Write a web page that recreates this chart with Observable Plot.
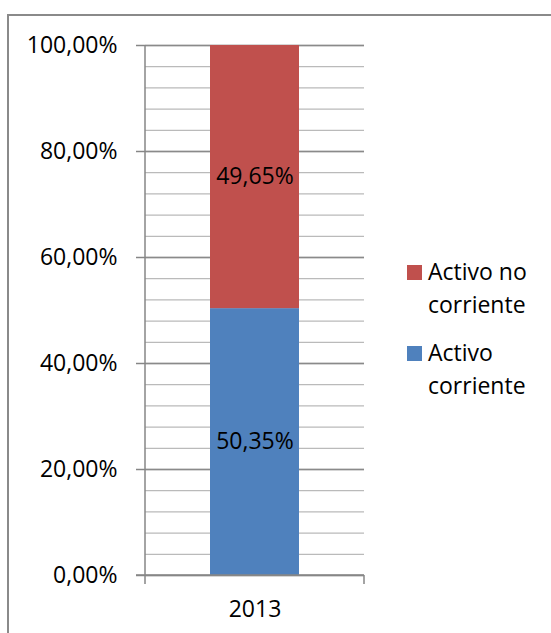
<!DOCTYPE html>
<html>
<head>
<meta charset="utf-8">
<script src="https://cdn.jsdelivr.net/npm/d3@7"></script>
<script src="https://cdn.jsdelivr.net/npm/@observablehq/plot@0.6"></script>
<style>
  html, body { margin: 0; padding: 0; background: #fff; overflow: hidden; }
  #wrap { position: relative; width: 551px; height: 633px; overflow: hidden; font-family: "Open Sans", sans-serif; }
  #border { position: absolute; left: 7px; top: 14px; width: 700px; height: 800px; border: 2px solid #8a8a8a; box-sizing: border-box; }
  #chart { position: absolute; left: 0; top: 0; }
  #legend { position: absolute; left: 407px; top: 0; font-size: 23px; line-height: 33px; color: #000; }
  .item { position: absolute; left: 0; white-space: nowrap; }
  .sw { position: absolute; left: 0; width: 15px; height: 15px; }
  .txt { position: absolute; left: 21px; }
</style>
</head>
<body>
<div id="wrap">
  <div id="border"></div>
  <div id="chart"></div>
  <div id="legend"></div>
</div>
<script>
// Balance sheet composition for 2013 (share of total assets)
const categories = ["2013"];
const series = ["Activo corriente", "Activo no corriente"];
const values = [50.35, 49.65];
const colors = ["#4F81BD", "#C0504D"];
const yTicks = [0, 20, 40, 60, 80, 100];
const gridStep = 4;

const pct = v => v.toFixed(2).replace(".", ",") + "%";

const rows = series.map((s, i) => ({year: categories[0], serie: s, value: values[i]}));

// Axis lines: vertical y axis plus the baseline with its two end ticks
function axisLines(index, scales, vals, dims) {
  const l = dims.marginLeft, t = dims.marginTop;
  const r = dims.width - dims.marginRight, b = dims.height - dims.marginBottom;
  const g = d3.create("svg:g")
    .attr("fill", "none").attr("stroke", "#868686").attr("stroke-width", 1.5);
  g.append("path").attr("d", `M${l},${t}V${b + 9}M${l - 9},${b}H${r}M${r},${b}V${b + 9}`);
  return g.node();
}

const chart = Plot.plot({
  width: 551,
  height: 633,
  marginLeft: 145,
  marginRight: 187,
  marginTop: 45,
  marginBottom: 58,
  style: {fontFamily: "'Open Sans', sans-serif", fontSize: "23px", color: "#000", background: "transparent", overflow: "visible"},
  x: {domain: categories, padding: 0.42},
  y: {domain: [0, 100]},
  color: {domain: series, range: colors},
  marks: [
    Plot.ruleY(d3.range(0, 100 + gridStep, gridStep), {stroke: "#bababa", strokeWidth: 1.3}),
    Plot.ruleY(yTicks, {stroke: "#8a8a8a", strokeWidth: 1.3}),
    Plot.barY(rows, Plot.stackY({x: "year", y: "value", fill: "serie", order: series})),
    Plot.text(rows, Plot.stackY({x: "year", y: "value", z: "serie", order: series, text: d => pct(d.value), fill: "#000", fontSize: 23})),
    Plot.axisY(yTicks, {tickFormat: pct, tickSize: 9, tickPadding: 19, stroke: "#868686", strokeWidth: 1.5, label: null, fontSize: 23}),
    Plot.axisX({tickSize: 0, tickPadding: 25, label: null, fontSize: 23}),
    axisLines
  ]
});
document.getElementById("chart").appendChild(chart);

// Legend: red entry above blue, each wrapped onto two lines
const legend = document.getElementById("legend");
const legendItems = [
  {label: ["Activo no", "corriente"], color: colors[1], top: 255},
  {label: ["Activo", "corriente"], color: colors[0], top: 336}
];
for (const it of legendItems) {
  const item = document.createElement("div");
  item.className = "item";
  item.style.top = it.top + "px";
  const sw = document.createElement("div");
  sw.className = "sw";
  sw.style.background = it.color;
  sw.style.top = "10px";
  const txt = document.createElement("div");
  txt.className = "txt";
  txt.innerHTML = it.label.join("<br>");
  item.appendChild(sw);
  item.appendChild(txt);
  legend.appendChild(item);
}
</script>
</body>
</html>
